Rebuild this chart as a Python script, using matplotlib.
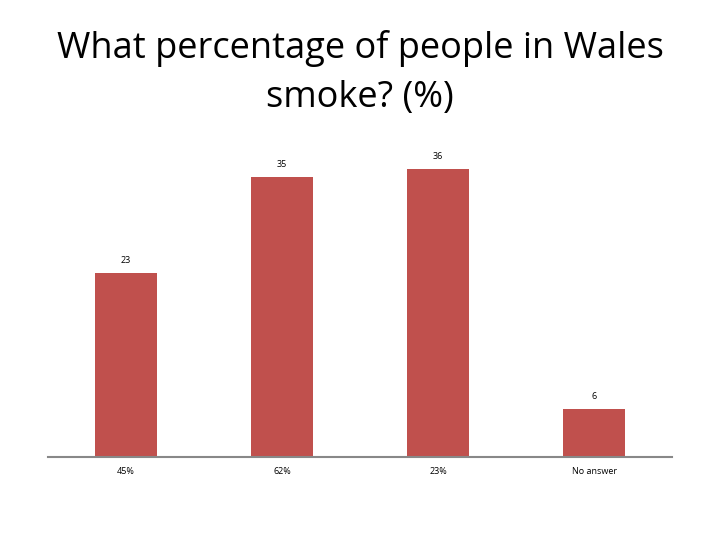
import matplotlib.pyplot as plt

categories = ["45%", "62%", "23%", "No answer"]
values = [23, 35, 36, 6]

plt.rcParams['font.family'] = ['Open Sans', 'DejaVu Sans']

fig = plt.figure(figsize=(7.2, 5.4), dpi=100)
ax = fig.add_axes([48 / 720, (540 - 457) / 540, 624 / 720, 320 / 540])

x = range(len(categories))
bars = ax.bar(x, values, width=0.4, color='#c0504d')
for rect, v in zip(bars, values):
    ax.annotate(str(v), (rect.get_x() + rect.get_width() / 2, v),
                xytext=(0, 6), textcoords='offset points',
                ha='center', va='bottom', fontsize=6.5)

ax.set_xlim(-0.5, len(categories) - 0.5)
ax.set_ylim(0, 40)
ax.set_xticks(list(x))
ax.set_xticklabels(categories, fontsize=6.5)
ax.tick_params(axis='x', length=0, pad=7)
ax.set_yticks([])
for side in ['left', 'right', 'top']:
    ax.spines[side].set_visible(False)
ax.spines['bottom'].set_color('#888888')
ax.spines['bottom'].set_linewidth(1.5)

fig.text(0.5, 1 - 73 / 540, "What percentage of people in Wales\nsmoke? (%)",
         ha='center', va='center', fontsize=26, linespacing=1.45,
         fontweight='medium')

fig.savefig('out.png', dpi=100)
